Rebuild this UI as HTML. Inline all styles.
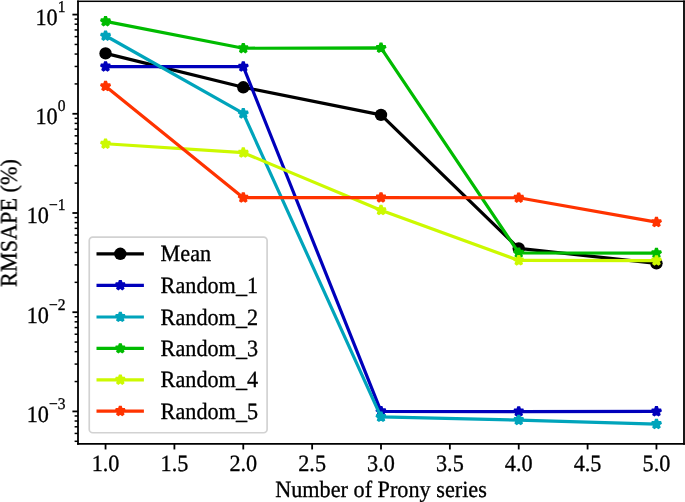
<!DOCTYPE html><html><head><meta charset="utf-8"><style>html,body{margin:0;padding:0;background:#fff}svg{display:block}text{font-family:"Liberation Serif",serif;fill:#000;stroke:#000;stroke-width:0.3px;text-rendering:geometricPrecision}</style></head><body>
<svg width="685" height="502" viewBox="0 0 685 502">
<rect width="685" height="502" fill="#fff"/>
<defs><filter id="gs" x="-10%" y="-50%" width="120%" height="200%" color-interpolation-filters="sRGB"><feColorMatrix type="saturate" values="0"/></filter><clipPath id="c"><rect x="78.0" y="1.1" width="606.0" height="442.84999999999997"/></clipPath></defs>
<line x1="105.55" y1="443.95" x2="105.55" y2="449.45" stroke="#000" stroke-width="1.8"/>
<text filter="url(#gs)" transform="translate(105.55,470.90) scale(1.01,1.06)" font-size="22" text-anchor="middle">1.0</text>
<line x1="174.41" y1="443.95" x2="174.41" y2="449.45" stroke="#000" stroke-width="1.8"/>
<text filter="url(#gs)" transform="translate(174.41,470.90) scale(1.01,1.06)" font-size="22" text-anchor="middle">1.5</text>
<line x1="243.28" y1="443.95" x2="243.28" y2="449.45" stroke="#000" stroke-width="1.8"/>
<text filter="url(#gs)" transform="translate(243.28,470.90) scale(1.01,1.06)" font-size="22" text-anchor="middle">2.0</text>
<line x1="312.14" y1="443.95" x2="312.14" y2="449.45" stroke="#000" stroke-width="1.8"/>
<text filter="url(#gs)" transform="translate(312.14,470.90) scale(1.01,1.06)" font-size="22" text-anchor="middle">2.5</text>
<line x1="381.00" y1="443.95" x2="381.00" y2="449.45" stroke="#000" stroke-width="1.8"/>
<text filter="url(#gs)" transform="translate(381.00,470.90) scale(1.01,1.06)" font-size="22" text-anchor="middle">3.0</text>
<line x1="449.86" y1="443.95" x2="449.86" y2="449.45" stroke="#000" stroke-width="1.8"/>
<text filter="url(#gs)" transform="translate(449.86,470.90) scale(1.01,1.06)" font-size="22" text-anchor="middle">3.5</text>
<line x1="518.73" y1="443.95" x2="518.73" y2="449.45" stroke="#000" stroke-width="1.8"/>
<text filter="url(#gs)" transform="translate(518.73,470.90) scale(1.01,1.06)" font-size="22" text-anchor="middle">4.0</text>
<line x1="587.59" y1="443.95" x2="587.59" y2="449.45" stroke="#000" stroke-width="1.8"/>
<text filter="url(#gs)" transform="translate(587.59,470.90) scale(1.01,1.06)" font-size="22" text-anchor="middle">4.5</text>
<line x1="656.45" y1="443.95" x2="656.45" y2="449.45" stroke="#000" stroke-width="1.8"/>
<text filter="url(#gs)" transform="translate(656.45,470.90) scale(1.01,1.06)" font-size="22" text-anchor="middle">5.0</text>
<line x1="72.40" y1="411.42" x2="78.0" y2="411.42" stroke="#000" stroke-width="1.8"/>
<line x1="72.40" y1="312.21" x2="78.0" y2="312.21" stroke="#000" stroke-width="1.8"/>
<line x1="72.40" y1="213.00" x2="78.0" y2="213.00" stroke="#000" stroke-width="1.8"/>
<line x1="72.40" y1="113.79" x2="78.0" y2="113.79" stroke="#000" stroke-width="1.8"/>
<line x1="72.40" y1="14.58" x2="78.0" y2="14.58" stroke="#000" stroke-width="1.8"/>
<line x1="74.60" y1="441.29" x2="78.0" y2="441.29" stroke="#000" stroke-width="1.5"/>
<line x1="74.60" y1="433.43" x2="78.0" y2="433.43" stroke="#000" stroke-width="1.5"/>
<line x1="74.60" y1="426.79" x2="78.0" y2="426.79" stroke="#000" stroke-width="1.5"/>
<line x1="74.60" y1="421.03" x2="78.0" y2="421.03" stroke="#000" stroke-width="1.5"/>
<line x1="74.60" y1="415.96" x2="78.0" y2="415.96" stroke="#000" stroke-width="1.5"/>
<line x1="74.60" y1="381.55" x2="78.0" y2="381.55" stroke="#000" stroke-width="1.5"/>
<line x1="74.60" y1="364.08" x2="78.0" y2="364.08" stroke="#000" stroke-width="1.5"/>
<line x1="74.60" y1="351.69" x2="78.0" y2="351.69" stroke="#000" stroke-width="1.5"/>
<line x1="74.60" y1="342.08" x2="78.0" y2="342.08" stroke="#000" stroke-width="1.5"/>
<line x1="74.60" y1="334.22" x2="78.0" y2="334.22" stroke="#000" stroke-width="1.5"/>
<line x1="74.60" y1="327.58" x2="78.0" y2="327.58" stroke="#000" stroke-width="1.5"/>
<line x1="74.60" y1="321.82" x2="78.0" y2="321.82" stroke="#000" stroke-width="1.5"/>
<line x1="74.60" y1="316.75" x2="78.0" y2="316.75" stroke="#000" stroke-width="1.5"/>
<line x1="74.60" y1="282.34" x2="78.0" y2="282.34" stroke="#000" stroke-width="1.5"/>
<line x1="74.60" y1="264.87" x2="78.0" y2="264.87" stroke="#000" stroke-width="1.5"/>
<line x1="74.60" y1="252.48" x2="78.0" y2="252.48" stroke="#000" stroke-width="1.5"/>
<line x1="74.60" y1="242.87" x2="78.0" y2="242.87" stroke="#000" stroke-width="1.5"/>
<line x1="74.60" y1="235.01" x2="78.0" y2="235.01" stroke="#000" stroke-width="1.5"/>
<line x1="74.60" y1="228.37" x2="78.0" y2="228.37" stroke="#000" stroke-width="1.5"/>
<line x1="74.60" y1="222.61" x2="78.0" y2="222.61" stroke="#000" stroke-width="1.5"/>
<line x1="74.60" y1="217.54" x2="78.0" y2="217.54" stroke="#000" stroke-width="1.5"/>
<line x1="74.60" y1="183.13" x2="78.0" y2="183.13" stroke="#000" stroke-width="1.5"/>
<line x1="74.60" y1="165.66" x2="78.0" y2="165.66" stroke="#000" stroke-width="1.5"/>
<line x1="74.60" y1="153.27" x2="78.0" y2="153.27" stroke="#000" stroke-width="1.5"/>
<line x1="74.60" y1="143.66" x2="78.0" y2="143.66" stroke="#000" stroke-width="1.5"/>
<line x1="74.60" y1="135.80" x2="78.0" y2="135.80" stroke="#000" stroke-width="1.5"/>
<line x1="74.60" y1="129.16" x2="78.0" y2="129.16" stroke="#000" stroke-width="1.5"/>
<line x1="74.60" y1="123.40" x2="78.0" y2="123.40" stroke="#000" stroke-width="1.5"/>
<line x1="74.60" y1="118.33" x2="78.0" y2="118.33" stroke="#000" stroke-width="1.5"/>
<line x1="74.60" y1="83.92" x2="78.0" y2="83.92" stroke="#000" stroke-width="1.5"/>
<line x1="74.60" y1="66.45" x2="78.0" y2="66.45" stroke="#000" stroke-width="1.5"/>
<line x1="74.60" y1="54.06" x2="78.0" y2="54.06" stroke="#000" stroke-width="1.5"/>
<line x1="74.60" y1="44.45" x2="78.0" y2="44.45" stroke="#000" stroke-width="1.5"/>
<line x1="74.60" y1="36.59" x2="78.0" y2="36.59" stroke="#000" stroke-width="1.5"/>
<line x1="74.60" y1="29.95" x2="78.0" y2="29.95" stroke="#000" stroke-width="1.5"/>
<line x1="74.60" y1="24.19" x2="78.0" y2="24.19" stroke="#000" stroke-width="1.5"/>
<line x1="74.60" y1="19.12" x2="78.0" y2="19.12" stroke="#000" stroke-width="1.5"/>
<text filter="url(#gs)" transform="translate(65.50,421.72) scale(1.01,1.06)" font-size="22" text-anchor="end">10<tspan font-size="15.4" dy="-12.2">−3</tspan></text>
<text filter="url(#gs)" transform="translate(65.50,322.51) scale(1.01,1.06)" font-size="22" text-anchor="end">10<tspan font-size="15.4" dy="-12.2">−2</tspan></text>
<text filter="url(#gs)" transform="translate(65.50,223.30) scale(1.01,1.06)" font-size="22" text-anchor="end">10<tspan font-size="15.4" dy="-12.2">−1</tspan></text>
<text filter="url(#gs)" transform="translate(65.50,124.09) scale(1.01,1.06)" font-size="22" text-anchor="end">10<tspan font-size="15.4" dy="-12.2">0</tspan></text>
<text filter="url(#gs)" transform="translate(65.50,24.88) scale(1.01,1.06)" font-size="22" text-anchor="end">10<tspan font-size="15.4" dy="-12.2">1</tspan></text>
<g clip-path="url(#c)"><polyline points="105.55,53.40 243.28,87.30 381.00,114.90 518.73,248.40 656.45,263.30" fill="none" stroke="#000000" stroke-width="3.2" stroke-linejoin="round" stroke-linecap="butt"/>
<circle cx="105.55" cy="53.40" r="6.2" fill="#000000"/>
<circle cx="243.28" cy="87.30" r="6.2" fill="#000000"/>
<circle cx="381.00" cy="114.90" r="6.2" fill="#000000"/>
<circle cx="518.73" cy="248.40" r="6.2" fill="#000000"/>
<circle cx="656.45" cy="263.30" r="6.2" fill="#000000"/>
</g>
<g clip-path="url(#c)"><polyline points="105.55,66.55 243.28,66.65 381.00,411.35 518.73,411.60 656.45,411.45" fill="none" stroke="#0000bb" stroke-width="3.2" stroke-linejoin="round" stroke-linecap="butt"/>
<polygon points="105.55,61.65 104.45,65.04 100.89,65.04 103.77,67.13 102.67,70.51 105.55,68.42 108.43,70.51 107.33,67.13 110.21,65.04 106.65,65.04" fill="#0000bb" stroke="#0000bb" stroke-width="3" stroke-linejoin="bevel"/>
<polygon points="243.28,61.75 242.17,65.14 238.61,65.14 241.49,67.23 240.39,70.61 243.28,68.52 246.16,70.61 245.06,67.23 247.94,65.14 244.38,65.14" fill="#0000bb" stroke="#0000bb" stroke-width="3" stroke-linejoin="bevel"/>
<polygon points="381.00,406.45 379.90,409.84 376.34,409.84 379.22,411.93 378.12,415.31 381.00,413.22 383.88,415.31 382.78,411.93 385.66,409.84 382.10,409.84" fill="#0000bb" stroke="#0000bb" stroke-width="3" stroke-linejoin="bevel"/>
<polygon points="518.73,406.70 517.62,410.09 514.06,410.09 516.94,412.18 515.84,415.56 518.73,413.47 521.61,415.56 520.51,412.18 523.39,410.09 519.83,410.09" fill="#0000bb" stroke="#0000bb" stroke-width="3" stroke-linejoin="bevel"/>
<polygon points="656.45,406.55 655.35,409.94 651.79,409.94 654.67,412.03 653.57,415.41 656.45,413.32 659.33,415.41 658.23,412.03 661.11,409.94 657.55,409.94" fill="#0000bb" stroke="#0000bb" stroke-width="3" stroke-linejoin="bevel"/>
</g>
<g clip-path="url(#c)"><polyline points="105.55,35.75 243.28,113.45 381.00,416.95 518.73,420.05 656.45,424.05" fill="none" stroke="#00a4bb" stroke-width="3.2" stroke-linejoin="round" stroke-linecap="butt"/>
<polygon points="105.55,30.85 104.45,34.24 100.89,34.24 103.77,36.33 102.67,39.71 105.55,37.62 108.43,39.71 107.33,36.33 110.21,34.24 106.65,34.24" fill="#00a4bb" stroke="#00a4bb" stroke-width="3" stroke-linejoin="bevel"/>
<polygon points="243.28,108.55 242.17,111.94 238.61,111.94 241.49,114.03 240.39,117.41 243.28,115.32 246.16,117.41 245.06,114.03 247.94,111.94 244.38,111.94" fill="#00a4bb" stroke="#00a4bb" stroke-width="3" stroke-linejoin="bevel"/>
<polygon points="381.00,412.05 379.90,415.44 376.34,415.44 379.22,417.53 378.12,420.91 381.00,418.82 383.88,420.91 382.78,417.53 385.66,415.44 382.10,415.44" fill="#00a4bb" stroke="#00a4bb" stroke-width="3" stroke-linejoin="bevel"/>
<polygon points="518.73,415.15 517.62,418.54 514.06,418.54 516.94,420.63 515.84,424.01 518.73,421.92 521.61,424.01 520.51,420.63 523.39,418.54 519.83,418.54" fill="#00a4bb" stroke="#00a4bb" stroke-width="3" stroke-linejoin="bevel"/>
<polygon points="656.45,419.15 655.35,422.54 651.79,422.54 654.67,424.63 653.57,428.01 656.45,425.92 659.33,428.01 658.23,424.63 661.11,422.54 657.55,422.54" fill="#00a4bb" stroke="#00a4bb" stroke-width="3" stroke-linejoin="bevel"/>
</g>
<g clip-path="url(#c)"><polyline points="105.55,21.35 243.28,48.25 381.00,47.95 518.73,252.85 656.45,253.15" fill="none" stroke="#00bb00" stroke-width="3.2" stroke-linejoin="round" stroke-linecap="butt"/>
<polygon points="105.55,16.45 104.45,19.84 100.89,19.84 103.77,21.93 102.67,25.31 105.55,23.22 108.43,25.31 107.33,21.93 110.21,19.84 106.65,19.84" fill="#00bb00" stroke="#00bb00" stroke-width="3" stroke-linejoin="bevel"/>
<polygon points="243.28,43.35 242.17,46.74 238.61,46.74 241.49,48.83 240.39,52.21 243.28,50.12 246.16,52.21 245.06,48.83 247.94,46.74 244.38,46.74" fill="#00bb00" stroke="#00bb00" stroke-width="3" stroke-linejoin="bevel"/>
<polygon points="381.00,43.05 379.90,46.44 376.34,46.44 379.22,48.53 378.12,51.91 381.00,49.82 383.88,51.91 382.78,48.53 385.66,46.44 382.10,46.44" fill="#00bb00" stroke="#00bb00" stroke-width="3" stroke-linejoin="bevel"/>
<polygon points="518.73,247.95 517.62,251.34 514.06,251.34 516.94,253.43 515.84,256.81 518.73,254.72 521.61,256.81 520.51,253.43 523.39,251.34 519.83,251.34" fill="#00bb00" stroke="#00bb00" stroke-width="3" stroke-linejoin="bevel"/>
<polygon points="656.45,248.25 655.35,251.64 651.79,251.64 654.67,253.73 653.57,257.11 656.45,255.02 659.33,257.11 658.23,253.73 661.11,251.64 657.55,251.64" fill="#00bb00" stroke="#00bb00" stroke-width="3" stroke-linejoin="bevel"/>
</g>
<g clip-path="url(#c)"><polyline points="105.55,143.75 243.28,152.65 381.00,210.15 518.73,260.45 656.45,260.55" fill="none" stroke="#ccf900" stroke-width="3.2" stroke-linejoin="round" stroke-linecap="butt"/>
<polygon points="105.55,138.85 104.45,142.24 100.89,142.24 103.77,144.33 102.67,147.71 105.55,145.62 108.43,147.71 107.33,144.33 110.21,142.24 106.65,142.24" fill="#ccf900" stroke="#ccf900" stroke-width="3" stroke-linejoin="bevel"/>
<polygon points="243.28,147.75 242.17,151.14 238.61,151.14 241.49,153.23 240.39,156.61 243.28,154.52 246.16,156.61 245.06,153.23 247.94,151.14 244.38,151.14" fill="#ccf900" stroke="#ccf900" stroke-width="3" stroke-linejoin="bevel"/>
<polygon points="381.00,205.25 379.90,208.64 376.34,208.64 379.22,210.73 378.12,214.11 381.00,212.02 383.88,214.11 382.78,210.73 385.66,208.64 382.10,208.64" fill="#ccf900" stroke="#ccf900" stroke-width="3" stroke-linejoin="bevel"/>
<polygon points="518.73,255.55 517.62,258.94 514.06,258.94 516.94,261.03 515.84,264.41 518.73,262.32 521.61,264.41 520.51,261.03 523.39,258.94 519.83,258.94" fill="#ccf900" stroke="#ccf900" stroke-width="3" stroke-linejoin="bevel"/>
<polygon points="656.45,255.65 655.35,259.04 651.79,259.04 654.67,261.13 653.57,264.51 656.45,262.42 659.33,264.51 658.23,261.13 661.11,259.04 657.55,259.04" fill="#ccf900" stroke="#ccf900" stroke-width="3" stroke-linejoin="bevel"/>
</g>
<g clip-path="url(#c)"><polyline points="105.55,86.15 243.28,197.65 381.00,197.55 518.73,197.75 656.45,222.15" fill="none" stroke="#ff3300" stroke-width="3.2" stroke-linejoin="round" stroke-linecap="butt"/>
<polygon points="105.55,81.25 104.45,84.64 100.89,84.64 103.77,86.73 102.67,90.11 105.55,88.02 108.43,90.11 107.33,86.73 110.21,84.64 106.65,84.64" fill="#ff3300" stroke="#ff3300" stroke-width="3" stroke-linejoin="bevel"/>
<polygon points="243.28,192.75 242.17,196.14 238.61,196.14 241.49,198.23 240.39,201.61 243.28,199.52 246.16,201.61 245.06,198.23 247.94,196.14 244.38,196.14" fill="#ff3300" stroke="#ff3300" stroke-width="3" stroke-linejoin="bevel"/>
<polygon points="381.00,192.65 379.90,196.04 376.34,196.04 379.22,198.13 378.12,201.51 381.00,199.42 383.88,201.51 382.78,198.13 385.66,196.04 382.10,196.04" fill="#ff3300" stroke="#ff3300" stroke-width="3" stroke-linejoin="bevel"/>
<polygon points="518.73,192.85 517.62,196.24 514.06,196.24 516.94,198.33 515.84,201.71 518.73,199.62 521.61,201.71 520.51,198.33 523.39,196.24 519.83,196.24" fill="#ff3300" stroke="#ff3300" stroke-width="3" stroke-linejoin="bevel"/>
<polygon points="656.45,217.25 655.35,220.64 651.79,220.64 654.67,222.73 653.57,226.11 656.45,224.02 659.33,226.11 658.23,222.73 661.11,220.64 657.55,220.64" fill="#ff3300" stroke="#ff3300" stroke-width="3" stroke-linejoin="bevel"/>
</g>
<line x1="78.0" y1="0.4" x2="78.0" y2="444.84999999999997" stroke="#000" stroke-width="1.8"/>
<line x1="684.0" y1="0.4" x2="684.0" y2="444.84999999999997" stroke="#000" stroke-width="1.8"/>
<line x1="77.1" y1="443.95" x2="684.9" y2="443.95" stroke="#000" stroke-width="1.8"/>
<rect x="77.1" y="0.55" width="607.8" height="1.5" fill="#000"/>
<rect x="89.25" y="237.05" width="177.85000000000002" height="195.7" rx="3.5" ry="3.5" fill="#fff" fill-opacity="0.8" stroke="#d2d2d2" stroke-width="1.7"/>
<line x1="96.5" y1="253.8" x2="143.9" y2="253.8" stroke="#000000" stroke-width="3.2"/>
<circle cx="120.3" cy="253.8" r="6.2" fill="#000000"/>
<text filter="url(#gs)" transform="translate(160.60,261.30) scale(1.01,1.06)" font-size="22" text-anchor="start">Mean</text>
<line x1="96.5" y1="285.3" x2="143.9" y2="285.3" stroke="#0000bb" stroke-width="3.2"/>
<polygon points="120.30,280.50 119.22,283.82 115.73,283.82 118.56,285.87 117.48,289.18 120.30,287.13 123.12,289.18 122.04,285.87 124.87,283.82 121.38,283.82" fill="#0000bb" stroke="#0000bb" stroke-width="3" stroke-linejoin="bevel"/>
<text filter="url(#gs)" transform="translate(160.60,292.80) scale(1.01,1.06)" font-size="22" text-anchor="start">Random_1</text>
<line x1="96.5" y1="317.0" x2="143.9" y2="317.0" stroke="#00a4bb" stroke-width="3.2"/>
<polygon points="120.30,312.20 119.22,315.52 115.73,315.52 118.56,317.57 117.48,320.88 120.30,318.83 123.12,320.88 122.04,317.57 124.87,315.52 121.38,315.52" fill="#00a4bb" stroke="#00a4bb" stroke-width="3" stroke-linejoin="bevel"/>
<text filter="url(#gs)" transform="translate(160.60,324.50) scale(1.01,1.06)" font-size="22" text-anchor="start">Random_2</text>
<line x1="96.5" y1="348.4" x2="143.9" y2="348.4" stroke="#00bb00" stroke-width="3.2"/>
<polygon points="120.30,343.60 119.22,346.92 115.73,346.92 118.56,348.97 117.48,352.28 120.30,350.23 123.12,352.28 122.04,348.97 124.87,346.92 121.38,346.92" fill="#00bb00" stroke="#00bb00" stroke-width="3" stroke-linejoin="bevel"/>
<text filter="url(#gs)" transform="translate(160.60,355.90) scale(1.01,1.06)" font-size="22" text-anchor="start">Random_3</text>
<line x1="96.5" y1="379.8" x2="143.9" y2="379.8" stroke="#ccf900" stroke-width="3.2"/>
<polygon points="120.30,375.00 119.22,378.32 115.73,378.32 118.56,380.37 117.48,383.68 120.30,381.63 123.12,383.68 122.04,380.37 124.87,378.32 121.38,378.32" fill="#ccf900" stroke="#ccf900" stroke-width="3" stroke-linejoin="bevel"/>
<text filter="url(#gs)" transform="translate(160.60,387.30) scale(1.01,1.06)" font-size="22" text-anchor="start">Random_4</text>
<line x1="96.5" y1="411.1" x2="143.9" y2="411.1" stroke="#ff3300" stroke-width="3.2"/>
<polygon points="120.30,406.30 119.22,409.62 115.73,409.62 118.56,411.67 117.48,414.98 120.30,412.93 123.12,414.98 122.04,411.67 124.87,409.62 121.38,409.62" fill="#ff3300" stroke="#ff3300" stroke-width="3" stroke-linejoin="bevel"/>
<text filter="url(#gs)" transform="translate(160.60,418.60) scale(1.01,1.06)" font-size="22" text-anchor="start">Random_5</text>
<text filter="url(#gs)" transform="translate(381.00,497.20) scale(1.01,1.06)" font-size="22" text-anchor="middle">Number of Prony series</text>
<text filter="url(#gs)" transform="translate(16.50,223.00) rotate(-90) scale(1.01,1.06)" font-size="22" text-anchor="middle">RMSAPE (%)</text>
</svg></body></html>
